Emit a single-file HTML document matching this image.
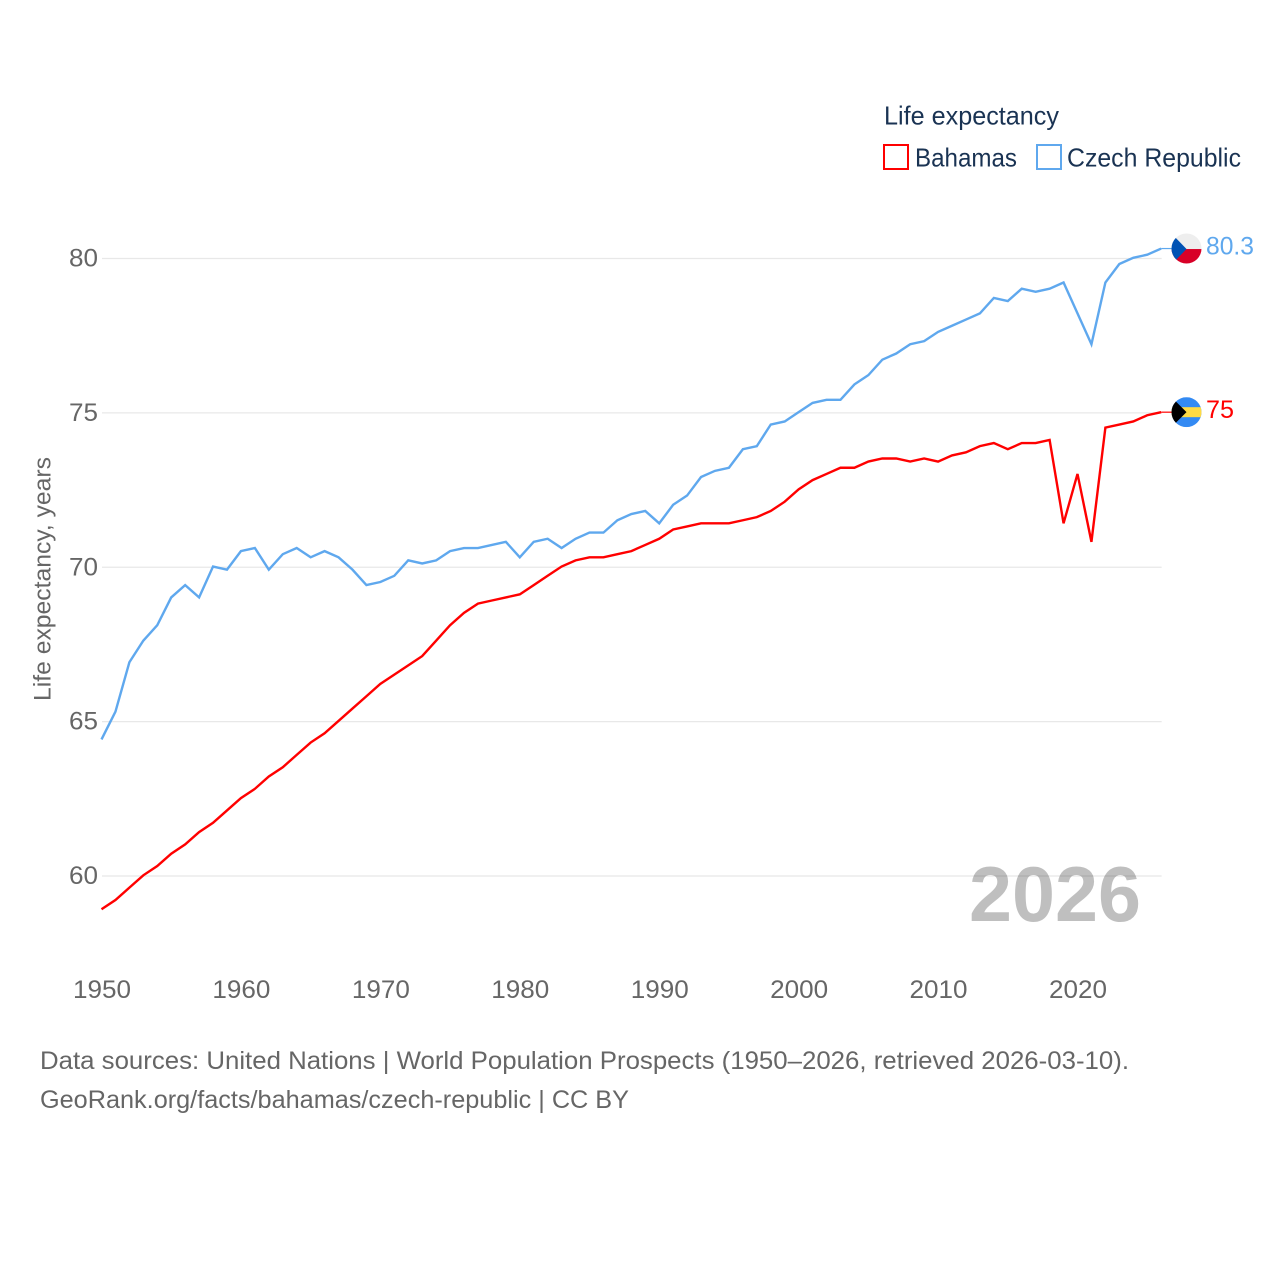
<!DOCTYPE html>
<html lang="en">
<head>
<meta charset="utf-8">
<title>Life expectancy: Bahamas and Czech Republic</title>
<style>
html,body{margin:0;padding:0;background:#fff;}
svg{display:block;font-family:"Liberation Sans",sans-serif;}
</style>
</head>
<body>
<svg id="chart" xmlns="http://www.w3.org/2000/svg" width="1280" height="1280" viewBox="0 0 1280 1280">
  <defs>
    <clipPath id="flag-clip-cz"><circle cx="0" cy="0" r="15"/></clipPath>
    <clipPath id="flag-clip-bs"><circle cx="0" cy="0" r="15"/></clipPath>
  </defs>
  <g id="grid"></g>
  <g id="yticks"></g>
  <g id="xticks"></g>
  <text transform="translate(50.5,701) rotate(-90)" font-size="24" fill="#666666" textLength="244" lengthAdjust="spacingAndGlyphs">Life expectancy, years</text>
  <text x="969" y="921" font-size="78" font-weight="bold" fill="#000000" fill-opacity="0.25" textLength="172" lengthAdjust="spacingAndGlyphs">2026</text>
  <path id="line-bahamas" fill="none" stroke="#ff0000" stroke-width="2.4" stroke-linejoin="miter"></path>
  <path id="line-czech" fill="none" stroke="#5fa8ee" stroke-width="2.4" stroke-linejoin="miter"></path>
  <line id="lead-bahamas" stroke="#ff0000" stroke-width="1.2"></line>
  <line id="lead-czech" stroke="#5fa8ee" stroke-width="1.2"></line>

  <g id="flag-cz">
    <g clip-path="url(#flag-clip-cz)">
      <rect x="-15" y="-15" width="30" height="15.5" fill="#eeeeee"/>
      <rect x="-15" y="0.5" width="30" height="14.5" fill="#d80027"/>
      <polygon points="-15,-15 0,0.5 -15,16" fill="#0052b4"/>
    </g>
  </g>
  <g id="flag-bs">
    <g clip-path="url(#flag-clip-bs)">
      <rect x="-15" y="-15" width="30" height="30" fill="#338af3"/>
      <rect x="-15" y="-5" width="30" height="10" fill="#ffda44"/>
      <polygon points="-15,-15 0,0 -15,15" fill="#000000"/>
    </g>
  </g>
  <text id="value-czech" x="1206" font-size="25" fill="#5fa8ee" textLength="48" lengthAdjust="spacingAndGlyphs"></text>
  <text id="value-bahamas" x="1206" font-size="25" fill="#ff0000" textLength="28" lengthAdjust="spacingAndGlyphs"></text>

  <g>
    <text x="884" y="124.5" font-size="26" fill="#1a3353" textLength="175" lengthAdjust="spacingAndGlyphs">Life expectancy</text>
    <g>
      <rect x="884" y="145" width="24" height="24" fill="#fff" stroke="#ff0000" stroke-width="2"/>
      <text x="915" y="166.5" font-size="26" fill="#1a3353" textLength="102" lengthAdjust="spacingAndGlyphs">Bahamas</text>
    </g>
    <g>
      <rect x="1037" y="145" width="24" height="24" fill="#fff" stroke="#5fa8ee" stroke-width="2"/>
      <text x="1067" y="166.5" font-size="26" fill="#1a3353" textLength="174" lengthAdjust="spacingAndGlyphs">Czech Republic</text>
    </g>
  </g>

  <text x="40" y="1069" font-size="25" fill="#666666" textLength="1089" lengthAdjust="spacingAndGlyphs">Data sources: United Nations | World Population Prospects (1950–2026, retrieved 2026-03-10).</text>
  <text x="40" y="1108" font-size="25" fill="#666666" textLength="589" lengthAdjust="spacingAndGlyphs">GeoRank.org/facts/bahamas/czech-republic | CC BY</text>
</svg>
<script>
const startYear = 1950;
const bahamasValues = [58.9,59.2,59.6,60.0,60.3,60.7,61.0,61.4,61.7,62.1,62.5,62.8,63.2,63.5,63.9,64.3,64.6,65.0,65.4,65.8,66.2,66.5,66.8,67.1,67.6,68.1,68.5,68.8,68.9,69.0,69.1,69.4,69.7,70.0,70.2,70.3,70.3,70.4,70.5,70.7,70.9,71.2,71.3,71.4,71.4,71.4,71.5,71.6,71.8,72.1,72.5,72.8,73.0,73.2,73.2,73.4,73.5,73.5,73.4,73.5,73.4,73.6,73.7,73.9,74.0,73.8,74.0,74.0,74.1,71.4,73.0,70.8,74.5,74.6,74.7,74.9,75.0];
const czechValues = [64.4,65.3,66.9,67.6,68.1,69.0,69.4,69.0,70.0,69.9,70.5,70.6,69.9,70.4,70.6,70.3,70.5,70.3,69.9,69.4,69.5,69.7,70.2,70.1,70.2,70.5,70.6,70.6,70.7,70.8,70.3,70.8,70.9,70.6,70.9,71.1,71.1,71.5,71.7,71.8,71.4,72.0,72.3,72.9,73.1,73.2,73.8,73.9,74.6,74.7,75.0,75.3,75.4,75.4,75.9,76.2,76.7,76.9,77.2,77.3,77.6,77.8,78.0,78.2,78.7,78.6,79.0,78.9,79.0,79.2,78.2,77.2,79.2,79.8,80.0,80.1,80.3];
const yTickValues = [60,65,70,75,80];
const xTickValues = [1950,1960,1970,1980,1990,2000,2010,2020];

const SVG_NS = 'http://www.w3.org/2000/svg';
function xScale(year){ return 102 + (year - 1950) * (1078 - 102) / 70; }
function yScale(v){ return 876 - (v - 60) * (876 - 258.5) / 20; }
function linePath(values){
  return values.map(function(v,i){
    return (i ? 'L' : 'M') + (xScale(startYear + i) - 0.5).toFixed(2) + ' ' + (yScale(v) - 0.7).toFixed(2);
  }).join(' ');
}

const grid = document.getElementById('grid');
const yticks = document.getElementById('yticks');
const xticks = document.getElementById('xticks');

yTickValues.forEach(function(t){
  const g = document.createElementNS(SVG_NS,'line');
  
  
  g.setAttribute('x1', xScale(1950));
  g.setAttribute('x2', xScale(2026));
  g.setAttribute('y1', yScale(t));
  g.setAttribute('y2', yScale(t));
  g.setAttribute('stroke', '#e8e8e8');
  g.setAttribute('stroke-width', '1.2');
  grid.appendChild(g);

  const l = document.createElementNS(SVG_NS,'text');
  
  
  l.setAttribute('x', 98);
  l.setAttribute('y', yScale(t) + 8);
  l.setAttribute('text-anchor', 'end');
  l.setAttribute('font-size', '25');
  l.setAttribute('fill', '#666666');
  l.setAttribute('textLength', '29');
  l.setAttribute('lengthAdjust', 'spacingAndGlyphs');
  l.textContent = String(t);
  yticks.appendChild(l);
});

xTickValues.forEach(function(t){
  const l = document.createElementNS(SVG_NS,'text');
  
  
  l.setAttribute('x', xScale(t));
  l.setAttribute('y', 998);
  l.setAttribute('text-anchor', 'middle');
  l.setAttribute('font-size', '25');
  l.setAttribute('fill', '#666666');
  l.setAttribute('textLength', '58');
  l.setAttribute('lengthAdjust', 'spacingAndGlyphs');
  l.textContent = String(t);
  xticks.appendChild(l);
});

document.getElementById('line-bahamas').setAttribute('d', linePath(bahamasValues));
document.getElementById('line-czech').setAttribute('d', linePath(czechValues));

function placeEnd(values, leadId, flagId, valueId){
  const last = values[values.length - 1];
  const x = xScale(startYear + values.length - 1) - 0.5;
  const y = yScale(last) - 0.7;
  const lead = document.getElementById(leadId);
  lead.setAttribute('x1', x);
  lead.setAttribute('x2', 1172);
  lead.setAttribute('y1', y);
  lead.setAttribute('y2', y);
  document.getElementById(flagId).setAttribute('transform', 'translate(1186.5,' + y + ')');
  const label = document.getElementById(valueId);
  label.setAttribute('y', y + 6);
  label.textContent = String(last);
}
placeEnd(bahamasValues, 'lead-bahamas', 'flag-bs', 'value-bahamas');
placeEnd(czechValues, 'lead-czech', 'flag-cz', 'value-czech');
</script>
</body>
</html>
